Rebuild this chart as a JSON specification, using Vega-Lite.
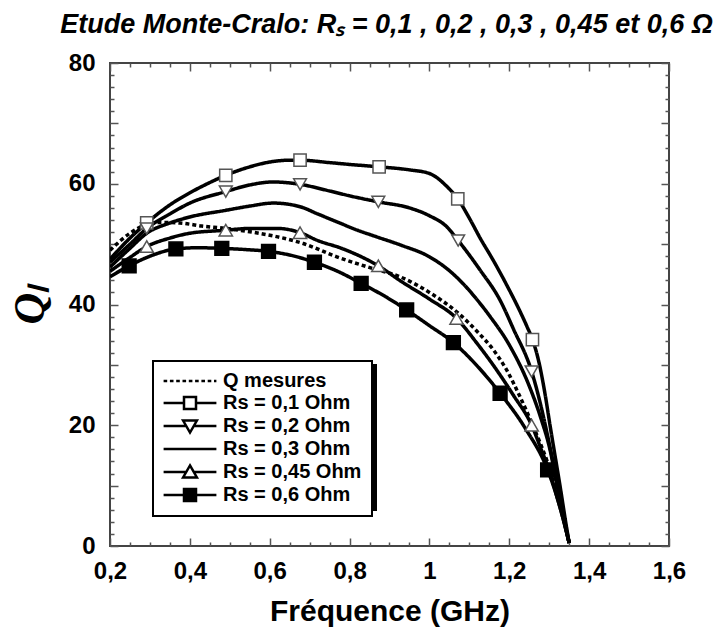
{
  "$schema": "https://vega.github.io/schema/vega-lite/v6.json",
  "width": 559,
  "height": 483,
  "autosize": "none",
  "padding": {"left": 110, "top": 63, "right": 56, "bottom": 84},
  "background": "white",
  "title": {
    "text": "Etude Monte-Cralo: Rₛ = 0,1 , 0,2 , 0,3 , 0,45 et 0,6 Ω",
    "font": "Liberation Sans", "fontSize": 27, "fontStyle": "italic", "fontWeight": "bold",
    "color": "black", "anchor": "middle", "offset": 12, "dx": -3
  },
  "config": {
    "view": {"stroke": "#444", "strokeWidth": 2},
    "axis": {"grid": false, "domain": false, "labelFont": "Liberation Sans", "labelFontWeight": "bold", "labelColor": "black", "labelFontSize": 24, "tickColor": "#555", "tickWidth": 1.5, "labelFlush": false, "labelOverlap": false},
    "legend": {"strokeWidth": 2}
  },
  "datasets": {
    "curves": [
      {"serie": "Q mesures", "f": 0.2, "Q": 49},
      {"serie": "Q mesures", "f": 0.25, "Q": 51.8},
      {"serie": "Q mesures", "f": 0.29, "Q": 53.2},
      {"serie": "Q mesures", "f": 0.33, "Q": 53.6},
      {"serie": "Q mesures", "f": 0.375, "Q": 53.5},
      {"serie": "Q mesures", "f": 0.43, "Q": 53},
      {"serie": "Q mesures", "f": 0.49, "Q": 52.6},
      {"serie": "Q mesures", "f": 0.555, "Q": 52},
      {"serie": "Q mesures", "f": 0.62, "Q": 51.2},
      {"serie": "Q mesures", "f": 0.684, "Q": 50.1},
      {"serie": "Q mesures", "f": 0.768, "Q": 47.9},
      {"serie": "Q mesures", "f": 0.851, "Q": 46.1},
      {"serie": "Q mesures", "f": 0.926, "Q": 44.6},
      {"serie": "Q mesures", "f": 1.0, "Q": 42},
      {"serie": "Q mesures", "f": 1.068, "Q": 38.8},
      {"serie": "Q mesures", "f": 1.12, "Q": 35.5},
      {"serie": "Q mesures", "f": 1.16, "Q": 32.5},
      {"serie": "Q mesures", "f": 1.193, "Q": 29.2},
      {"serie": "Q mesures", "f": 1.227, "Q": 24.7},
      {"serie": "Q mesures", "f": 1.26, "Q": 19.8},
      {"serie": "Q mesures", "f": 1.294, "Q": 14.2},
      {"serie": "Q mesures", "f": 1.327, "Q": 7.6},
      {"serie": "Q mesures", "f": 1.35, "Q": 0.5},

      {"serie": "Rs = 0,1 Ohm", "f": 0.2, "Q": 47.5},
      {"serie": "Rs = 0,1 Ohm", "f": 0.25, "Q": 51},
      {"serie": "Rs = 0,1 Ohm", "f": 0.292, "Q": 53.5},
      {"serie": "Rs = 0,1 Ohm", "f": 0.35, "Q": 56.5},
      {"serie": "Rs = 0,1 Ohm", "f": 0.4, "Q": 58.5},
      {"serie": "Rs = 0,1 Ohm", "f": 0.45, "Q": 60.2},
      {"serie": "Rs = 0,1 Ohm", "f": 0.49, "Q": 61.4},
      {"serie": "Rs = 0,1 Ohm", "f": 0.55, "Q": 62.8},
      {"serie": "Rs = 0,1 Ohm", "f": 0.6, "Q": 63.6},
      {"serie": "Rs = 0,1 Ohm", "f": 0.65, "Q": 63.9},
      {"serie": "Rs = 0,1 Ohm", "f": 0.676, "Q": 63.9},
      {"serie": "Rs = 0,1 Ohm", "f": 0.75, "Q": 63.5},
      {"serie": "Rs = 0,1 Ohm", "f": 0.8, "Q": 63.2},
      {"serie": "Rs = 0,1 Ohm", "f": 0.874, "Q": 62.8},
      {"serie": "Rs = 0,1 Ohm", "f": 0.95, "Q": 62.3},
      {"serie": "Rs = 0,1 Ohm", "f": 1.0, "Q": 61.7},
      {"serie": "Rs = 0,1 Ohm", "f": 1.043, "Q": 59.6},
      {"serie": "Rs = 0,1 Ohm", "f": 1.071, "Q": 57.5},
      {"serie": "Rs = 0,1 Ohm", "f": 1.1, "Q": 54.3},
      {"serie": "Rs = 0,1 Ohm", "f": 1.127, "Q": 51},
      {"serie": "Rs = 0,1 Ohm", "f": 1.16, "Q": 47.3},
      {"serie": "Rs = 0,1 Ohm", "f": 1.193, "Q": 43.3},
      {"serie": "Rs = 0,1 Ohm", "f": 1.22, "Q": 39.8},
      {"serie": "Rs = 0,1 Ohm", "f": 1.244, "Q": 36.4},
      {"serie": "Rs = 0,1 Ohm", "f": 1.258, "Q": 34.2},
      {"serie": "Rs = 0,1 Ohm", "f": 1.273, "Q": 30.8},
      {"serie": "Rs = 0,1 Ohm", "f": 1.29, "Q": 25},
      {"serie": "Rs = 0,1 Ohm", "f": 1.302, "Q": 20},
      {"serie": "Rs = 0,1 Ohm", "f": 1.315, "Q": 14.8},
      {"serie": "Rs = 0,1 Ohm", "f": 1.327, "Q": 10},
      {"serie": "Rs = 0,1 Ohm", "f": 1.34, "Q": 4.5},
      {"serie": "Rs = 0,1 Ohm", "f": 1.35, "Q": 0.5},

      {"serie": "Rs = 0,2 Ohm", "f": 0.2, "Q": 47},
      {"serie": "Rs = 0,2 Ohm", "f": 0.25, "Q": 50},
      {"serie": "Rs = 0,2 Ohm", "f": 0.292, "Q": 52.6},
      {"serie": "Rs = 0,2 Ohm", "f": 0.35, "Q": 55},
      {"serie": "Rs = 0,2 Ohm", "f": 0.4, "Q": 56.8},
      {"serie": "Rs = 0,2 Ohm", "f": 0.49, "Q": 58.7},
      {"serie": "Rs = 0,2 Ohm", "f": 0.55, "Q": 59.8},
      {"serie": "Rs = 0,2 Ohm", "f": 0.608, "Q": 60.3},
      {"serie": "Rs = 0,2 Ohm", "f": 0.676, "Q": 59.9},
      {"serie": "Rs = 0,2 Ohm", "f": 0.75, "Q": 58.8},
      {"serie": "Rs = 0,2 Ohm", "f": 0.8, "Q": 58},
      {"serie": "Rs = 0,2 Ohm", "f": 0.872, "Q": 57.0},
      {"serie": "Rs = 0,2 Ohm", "f": 0.95, "Q": 56.0},
      {"serie": "Rs = 0,2 Ohm", "f": 1.0, "Q": 54.7},
      {"serie": "Rs = 0,2 Ohm", "f": 1.043, "Q": 52.9},
      {"serie": "Rs = 0,2 Ohm", "f": 1.072, "Q": 50.6},
      {"serie": "Rs = 0,2 Ohm", "f": 1.127, "Q": 45.7},
      {"serie": "Rs = 0,2 Ohm", "f": 1.177, "Q": 40.7},
      {"serie": "Rs = 0,2 Ohm", "f": 1.21, "Q": 36},
      {"serie": "Rs = 0,2 Ohm", "f": 1.256, "Q": 28.9},
      {"serie": "Rs = 0,2 Ohm", "f": 1.28, "Q": 23},
      {"serie": "Rs = 0,2 Ohm", "f": 1.3, "Q": 17},
      {"serie": "Rs = 0,2 Ohm", "f": 1.32, "Q": 10.5},
      {"serie": "Rs = 0,2 Ohm", "f": 1.335, "Q": 5},
      {"serie": "Rs = 0,2 Ohm", "f": 1.35, "Q": 0.5},

      {"serie": "Rs = 0,3 Ohm", "f": 0.2, "Q": 46.2},
      {"serie": "Rs = 0,3 Ohm", "f": 0.25, "Q": 49.3},
      {"serie": "Rs = 0,3 Ohm", "f": 0.292, "Q": 51.8},
      {"serie": "Rs = 0,3 Ohm", "f": 0.35, "Q": 53.5},
      {"serie": "Rs = 0,3 Ohm", "f": 0.4, "Q": 54.5},
      {"serie": "Rs = 0,3 Ohm", "f": 0.49, "Q": 55.6},
      {"serie": "Rs = 0,3 Ohm", "f": 0.55, "Q": 56.3},
      {"serie": "Rs = 0,3 Ohm", "f": 0.609, "Q": 56.8},
      {"serie": "Rs = 0,3 Ohm", "f": 0.676, "Q": 56.2},
      {"serie": "Rs = 0,3 Ohm", "f": 0.72, "Q": 55},
      {"serie": "Rs = 0,3 Ohm", "f": 0.768, "Q": 53.7},
      {"serie": "Rs = 0,3 Ohm", "f": 0.82, "Q": 52.3},
      {"serie": "Rs = 0,3 Ohm", "f": 0.868, "Q": 51.2},
      {"serie": "Rs = 0,3 Ohm", "f": 0.93, "Q": 49.8},
      {"serie": "Rs = 0,3 Ohm", "f": 1.0, "Q": 47.9},
      {"serie": "Rs = 0,3 Ohm", "f": 1.05, "Q": 45.6},
      {"serie": "Rs = 0,3 Ohm", "f": 1.085, "Q": 43.4},
      {"serie": "Rs = 0,3 Ohm", "f": 1.118, "Q": 40.9},
      {"serie": "Rs = 0,3 Ohm", "f": 1.152, "Q": 38},
      {"serie": "Rs = 0,3 Ohm", "f": 1.2, "Q": 33.3},
      {"serie": "Rs = 0,3 Ohm", "f": 1.25, "Q": 26.5},
      {"serie": "Rs = 0,3 Ohm", "f": 1.28, "Q": 21},
      {"serie": "Rs = 0,3 Ohm", "f": 1.3, "Q": 16.5},
      {"serie": "Rs = 0,3 Ohm", "f": 1.32, "Q": 10},
      {"serie": "Rs = 0,3 Ohm", "f": 1.335, "Q": 5},
      {"serie": "Rs = 0,3 Ohm", "f": 1.35, "Q": 0.5},

      {"serie": "Rs = 0,45 Ohm", "f": 0.2, "Q": 45.5},
      {"serie": "Rs = 0,45 Ohm", "f": 0.25, "Q": 47.8},
      {"serie": "Rs = 0,45 Ohm", "f": 0.292, "Q": 49.6},
      {"serie": "Rs = 0,45 Ohm", "f": 0.35, "Q": 51},
      {"serie": "Rs = 0,45 Ohm", "f": 0.4, "Q": 51.8},
      {"serie": "Rs = 0,45 Ohm", "f": 0.49, "Q": 52.3},
      {"serie": "Rs = 0,45 Ohm", "f": 0.55, "Q": 52.6},
      {"serie": "Rs = 0,45 Ohm", "f": 0.62, "Q": 52.6},
      {"serie": "Rs = 0,45 Ohm", "f": 0.676, "Q": 51.9},
      {"serie": "Rs = 0,45 Ohm", "f": 0.72, "Q": 50.6},
      {"serie": "Rs = 0,45 Ohm", "f": 0.78, "Q": 49.3},
      {"serie": "Rs = 0,45 Ohm", "f": 0.872, "Q": 46.4},
      {"serie": "Rs = 0,45 Ohm", "f": 0.93, "Q": 43.8},
      {"serie": "Rs = 0,45 Ohm", "f": 1.0, "Q": 40.9},
      {"serie": "Rs = 0,45 Ohm", "f": 1.068, "Q": 37.7},
      {"serie": "Rs = 0,45 Ohm", "f": 1.12, "Q": 33.5},
      {"serie": "Rs = 0,45 Ohm", "f": 1.17, "Q": 29},
      {"serie": "Rs = 0,45 Ohm", "f": 1.21, "Q": 25},
      {"serie": "Rs = 0,45 Ohm", "f": 1.256, "Q": 20.0},
      {"serie": "Rs = 0,45 Ohm", "f": 1.28, "Q": 16},
      {"serie": "Rs = 0,45 Ohm", "f": 1.3, "Q": 12.5},
      {"serie": "Rs = 0,45 Ohm", "f": 1.32, "Q": 8},
      {"serie": "Rs = 0,45 Ohm", "f": 1.335, "Q": 4.5},
      {"serie": "Rs = 0,45 Ohm", "f": 1.35, "Q": 0.5},

      {"serie": "Rs = 0,6 Ohm", "f": 0.2, "Q": 44.6},
      {"serie": "Rs = 0,6 Ohm", "f": 0.248, "Q": 46.4},
      {"serie": "Rs = 0,6 Ohm", "f": 0.3, "Q": 48},
      {"serie": "Rs = 0,6 Ohm", "f": 0.365, "Q": 49.2},
      {"serie": "Rs = 0,6 Ohm", "f": 0.42, "Q": 49.4},
      {"serie": "Rs = 0,6 Ohm", "f": 0.48, "Q": 49.3},
      {"serie": "Rs = 0,6 Ohm", "f": 0.54, "Q": 49.1},
      {"serie": "Rs = 0,6 Ohm", "f": 0.597, "Q": 48.8},
      {"serie": "Rs = 0,6 Ohm", "f": 0.65, "Q": 48.2},
      {"serie": "Rs = 0,6 Ohm", "f": 0.712, "Q": 47.0},
      {"serie": "Rs = 0,6 Ohm", "f": 0.77, "Q": 45.5},
      {"serie": "Rs = 0,6 Ohm", "f": 0.829, "Q": 43.5},
      {"serie": "Rs = 0,6 Ohm", "f": 0.89, "Q": 41.3},
      {"serie": "Rs = 0,6 Ohm", "f": 0.943, "Q": 39.1},
      {"serie": "Rs = 0,6 Ohm", "f": 1.0, "Q": 36.5},
      {"serie": "Rs = 0,6 Ohm", "f": 1.06, "Q": 33.7},
      {"serie": "Rs = 0,6 Ohm", "f": 1.12, "Q": 29.8},
      {"serie": "Rs = 0,6 Ohm", "f": 1.177, "Q": 25.3},
      {"serie": "Rs = 0,6 Ohm", "f": 1.24, "Q": 19.5},
      {"serie": "Rs = 0,6 Ohm", "f": 1.296, "Q": 12.6},
      {"serie": "Rs = 0,6 Ohm", "f": 1.32, "Q": 8},
      {"serie": "Rs = 0,6 Ohm", "f": 1.35, "Q": 0.5}
    ],
    "markers": [
      {"serie": "Rs = 0,1 Ohm", "f": 0.292, "Q": 53.5},
      {"serie": "Rs = 0,1 Ohm", "f": 0.49, "Q": 61.4},
      {"serie": "Rs = 0,1 Ohm", "f": 0.676, "Q": 63.9},
      {"serie": "Rs = 0,1 Ohm", "f": 0.874, "Q": 62.8},
      {"serie": "Rs = 0,1 Ohm", "f": 1.071, "Q": 57.5},
      {"serie": "Rs = 0,1 Ohm", "f": 1.258, "Q": 34.2},
      {"serie": "Rs = 0,2 Ohm", "f": 0.292, "Q": 52.6},
      {"serie": "Rs = 0,2 Ohm", "f": 0.49, "Q": 58.7},
      {"serie": "Rs = 0,2 Ohm", "f": 0.676, "Q": 59.9},
      {"serie": "Rs = 0,2 Ohm", "f": 0.872, "Q": 57.0},
      {"serie": "Rs = 0,2 Ohm", "f": 1.072, "Q": 50.6},
      {"serie": "Rs = 0,2 Ohm", "f": 1.256, "Q": 28.9},
      {"serie": "Rs = 0,45 Ohm", "f": 0.292, "Q": 49.6},
      {"serie": "Rs = 0,45 Ohm", "f": 0.49, "Q": 52.3},
      {"serie": "Rs = 0,45 Ohm", "f": 0.676, "Q": 51.9},
      {"serie": "Rs = 0,45 Ohm", "f": 0.872, "Q": 46.4},
      {"serie": "Rs = 0,45 Ohm", "f": 1.068, "Q": 37.7},
      {"serie": "Rs = 0,45 Ohm", "f": 1.256, "Q": 20.0},
      {"serie": "Rs = 0,6 Ohm", "f": 0.248, "Q": 46.4},
      {"serie": "Rs = 0,6 Ohm", "f": 0.365, "Q": 49.2},
      {"serie": "Rs = 0,6 Ohm", "f": 0.48, "Q": 49.3},
      {"serie": "Rs = 0,6 Ohm", "f": 0.597, "Q": 48.8},
      {"serie": "Rs = 0,6 Ohm", "f": 0.712, "Q": 47.0},
      {"serie": "Rs = 0,6 Ohm", "f": 0.829, "Q": 43.5},
      {"serie": "Rs = 0,6 Ohm", "f": 0.943, "Q": 39.1},
      {"serie": "Rs = 0,6 Ohm", "f": 1.06, "Q": 33.7},
      {"serie": "Rs = 0,6 Ohm", "f": 1.177, "Q": 25.3},
      {"serie": "Rs = 0,6 Ohm", "f": 1.296, "Q": 12.6}
    ]
  },
  "resolve": {
    "axis": {"x": "independent", "y": "independent"},
    "scale": {"shape": "independent", "fill": "independent", "stroke": "independent", "size": "independent"}
  },
  "layer": [
    {
      "data": {"name": "curves"},
      "mark": {"type": "line", "interpolate": "monotone", "strokeWidth": 3.5, "clip": true},
      "encoding": {
        "x": {"field": "f", "type": "quantitative", "scale": {"domain": [0.2, 1.6], "nice": false, "zero": false},
          "axis": {"orient": "bottom", "values": [0.2, 0.4, 0.6, 0.8, 1, 1.2, 1.4, 1.6], "labelExpr": "replace(format(datum.value, '.1~f'), '.', ',')", "ticks": false, "labelPadding": 13,
            "title": "Fréquence (GHz)", "titleFont": "Liberation Sans", "titleFontSize": 30, "titleFontWeight": "bold", "titleColor": "black", "titlePadding": 13}},
        "y": {"field": "Q", "type": "quantitative", "scale": {"domain": [0, 80], "nice": false, "zero": false},
          "axis": {"orient": "left", "values": [0, 20, 40, 60, 80], "ticks": false, "labelPadding": 15,
            "title": "Qₗ", "titleFont": "Liberation Serif", "titleFontSize": 44, "titleFontWeight": "bold", "titleFontStyle": "italic", "titleColor": "black", "titlePadding": 16}},
        "color": {"field": "serie", "type": "nominal", "scale": {"range": ["black"]},
          "legend": {
            "orient": "none", "legendX": 47, "legendY": 302, "title": null,
            "strokeColor": "black", "fillColor": "black", "padding": 10,
            "labelFont": "Liberation Sans", "labelFontSize": 20, "labelFontWeight": "bold", "labelColor": "black",
            "symbolSize": 144, "symbolStrokeWidth": 2.5, "symbolType": "M-4.4,0L4.4,0",
            "symbolOffset": 17, "labelOffset": 23, "rowPadding": 1
          }},
        "strokeDash": {"field": "serie", "type": "nominal",
          "scale": {"domain": ["Q mesures", "Rs = 0,1 Ohm", "Rs = 0,2 Ohm", "Rs = 0,3 Ohm", "Rs = 0,45 Ohm", "Rs = 0,6 Ohm"], "range": [[4, 3], [1, 0], [1, 0], [1, 0], [1, 0], [1, 0]]},
          "legend": null}
      }
    },
    {
      "data": {"name": "markers"},
      "mark": {"type": "point", "filled": true, "strokeWidth": 1.5, "opacity": 1},
      "encoding": {
        "x": {"field": "f", "type": "quantitative", "scale": {"domain": [0.2, 1.6], "nice": false, "zero": false},
          "axis": {"orient": "bottom", "values": [0.2, 0.4, 0.6, 0.8, 1, 1.2, 1.4, 1.6], "labels": false, "tickSize": 8, "offset": -8, "title": null}},
        "y": {"field": "Q", "type": "quantitative", "scale": {"domain": [0, 80], "nice": false, "zero": false},
          "axis": {"orient": "left", "values": [0, 10, 20, 30, 40, 50, 60, 70, 80], "labels": false, "tickSize": 8, "offset": -8, "title": null}},
        "shape": {"field": "serie", "type": "nominal",
          "scale": {"domain": ["Rs = 0,1 Ohm", "Rs = 0,2 Ohm", "Rs = 0,45 Ohm", "Rs = 0,6 Ohm"], "range": ["square", "triangle-down", "triangle-up", "square"]}, "legend": null},
        "fill": {"field": "serie", "type": "nominal",
          "scale": {"domain": ["Rs = 0,1 Ohm", "Rs = 0,2 Ohm", "Rs = 0,45 Ohm", "Rs = 0,6 Ohm"], "range": ["white", "white", "white", "black"]}, "legend": null},
        "stroke": {"field": "serie", "type": "nominal",
          "scale": {"domain": ["Rs = 0,1 Ohm", "Rs = 0,2 Ohm", "Rs = 0,45 Ohm", "Rs = 0,6 Ohm"], "range": ["#555", "#555", "#555", "black"]}, "legend": null},
        "size": {"field": "serie", "type": "nominal",
          "scale": {"domain": ["Rs = 0,1 Ohm", "Rs = 0,2 Ohm", "Rs = 0,45 Ohm", "Rs = 0,6 Ohm"], "range": [150, 190, 190, 160]}, "legend": null}
      }
    },
    {
      "data": {"name": "curves"},
      "mark": {"type": "point", "filled": true, "opacity": 0, "size": 144, "strokeWidth": 2.5},
      "encoding": {
        "x": {"field": "f", "type": "quantitative", "scale": {"domain": [0.2, 1.6], "nice": false, "zero": false},
          "axis": {"orient": "bottom", "values": [0.25,0.3,0.35,0.45,0.5,0.55,0.65,0.7,0.75,0.85,0.9,0.95,1.05,1.1,1.15,1.25,1.3,1.35,1.45,1.5,1.55], "labels": false, "tickSize": 4, "offset": -4, "title": null}},
        "y": {"field": "Q", "type": "quantitative", "scale": {"domain": [0, 80], "nice": false, "zero": false},
          "axis": {"orient": "left", "values": [2,4,6,8,12,14,16,18,22,24,26,28,32,34,36,38,42,44,46,48,52,54,56,58,62,64,66,68,72,74,76,78], "labels": false, "tickSize": 4, "offset": -4, "title": null}},
        "shape": {"field": "serie", "type": "nominal",
          "scale": {"domain": ["Q mesures", "Rs = 0,1 Ohm", "Rs = 0,2 Ohm", "Rs = 0,3 Ohm", "Rs = 0,45 Ohm", "Rs = 0,6 Ohm"],
            "range": [
              "M-4.4,0L-3.8,0M-3.35,0L-2.75,0M-2.3,0L-1.7,0M-1.25,0L-0.65,0M-0.2,0L0.4,0M0.85,0L1.45,0M1.9,0L2.5,0M2.95,0L3.55,0M4,0L4.4,0",
              "M-4.4,0L-1,0M1,0L4.4,0M-1,-1L1,-1L1,1L-1,1Z",
              "M-4.4,0L-0.63,0M0.63,0L4.4,0M-1.15,-0.9L1.15,-0.9L0,1.1Z",
              "M-4.4,0L4.4,0",
              "M-4.4,0L-0.63,0M0.63,0L4.4,0M0,-1.1L1.15,0.9L-1.15,0.9Z",
              "M-4.4,0L-1,0M1,0L4.4,0M-1,-1L1,-1L1,1L-1,1Z"
            ]},
          "legend": {
            "orient": "none", "legendX": 43, "legendY": 298, "title": null,
            "strokeColor": "black", "fillColor": "white", "padding": 10,
            "labelFont": "Liberation Sans", "labelFontSize": 20, "labelFontWeight": "bold", "labelColor": "black",
            "symbolSize": 144, "symbolStrokeWidth": 2.5, "symbolOpacity": 1,
            "symbolOffset": 17, "labelOffset": 23, "rowPadding": 1
          }},
        "fill": {"field": "serie", "type": "nominal",
          "scale": {"domain": ["Q mesures", "Rs = 0,1 Ohm", "Rs = 0,2 Ohm", "Rs = 0,3 Ohm", "Rs = 0,45 Ohm", "Rs = 0,6 Ohm"], "range": ["white", "white", "white", "white", "white", "black"]},
          "legend": {
            "orient": "none", "legendX": 43, "legendY": 298, "title": null,
            "strokeColor": "black", "fillColor": "white", "padding": 10,
            "labelFont": "Liberation Sans", "labelFontSize": 20, "labelFontWeight": "bold", "labelColor": "black",
            "symbolSize": 144, "symbolStrokeWidth": 2.5, "symbolOpacity": 1,
            "symbolOffset": 17, "labelOffset": 23, "rowPadding": 1
          }},
        "stroke": {"field": "serie", "type": "nominal",
          "scale": {"domain": ["Q mesures", "Rs = 0,1 Ohm", "Rs = 0,2 Ohm", "Rs = 0,3 Ohm", "Rs = 0,45 Ohm", "Rs = 0,6 Ohm"], "range": ["black", "black", "black", "black", "black", "black"]},
          "legend": {
            "orient": "none", "legendX": 43, "legendY": 298, "title": null,
            "strokeColor": "black", "fillColor": "white", "padding": 10,
            "labelFont": "Liberation Sans", "labelFontSize": 20, "labelFontWeight": "bold", "labelColor": "black",
            "symbolSize": 144, "symbolStrokeWidth": 2.5, "symbolOpacity": 1,
            "symbolOffset": 17, "labelOffset": 23, "rowPadding": 1
          }}
      }
    },
    {
      "data": {"name": "markers"},
      "mark": {"type": "point", "opacity": 0},
      "encoding": {
        "x": {"field": "f", "type": "quantitative", "scale": {"domain": [0.2, 1.6], "nice": false, "zero": false},
          "axis": {"orient": "top", "values": [0.2, 0.4, 0.6, 0.8, 1, 1.2, 1.4, 1.6], "labels": false, "tickSize": 8, "offset": -8, "title": null}},
        "y": {"field": "Q", "type": "quantitative", "scale": {"domain": [0, 80], "nice": false, "zero": false},
          "axis": {"orient": "right", "values": [0, 10, 20, 30, 40, 50, 60, 70, 80], "labels": false, "tickSize": 8, "offset": -8, "title": null}}
      }
    },
    {
      "data": {"name": "markers"},
      "mark": {"type": "point", "opacity": 0},
      "encoding": {
        "x": {"field": "f", "type": "quantitative", "scale": {"domain": [0.2, 1.6], "nice": false, "zero": false},
          "axis": {"orient": "top", "values": [0.25,0.3,0.35,0.45,0.5,0.55,0.65,0.7,0.75,0.85,0.9,0.95,1.05,1.1,1.15,1.25,1.3,1.35,1.45,1.5,1.55], "labels": false, "tickSize": 4, "offset": -4, "title": null}},
        "y": {"field": "Q", "type": "quantitative", "scale": {"domain": [0, 80], "nice": false, "zero": false},
          "axis": {"orient": "right", "values": [2,4,6,8,12,14,16,18,22,24,26,28,32,34,36,38,42,44,46,48,52,54,56,58,62,64,66,68,72,74,76,78], "labels": false, "tickSize": 4, "offset": -4, "title": null}}
      }
    }
  ]
}
